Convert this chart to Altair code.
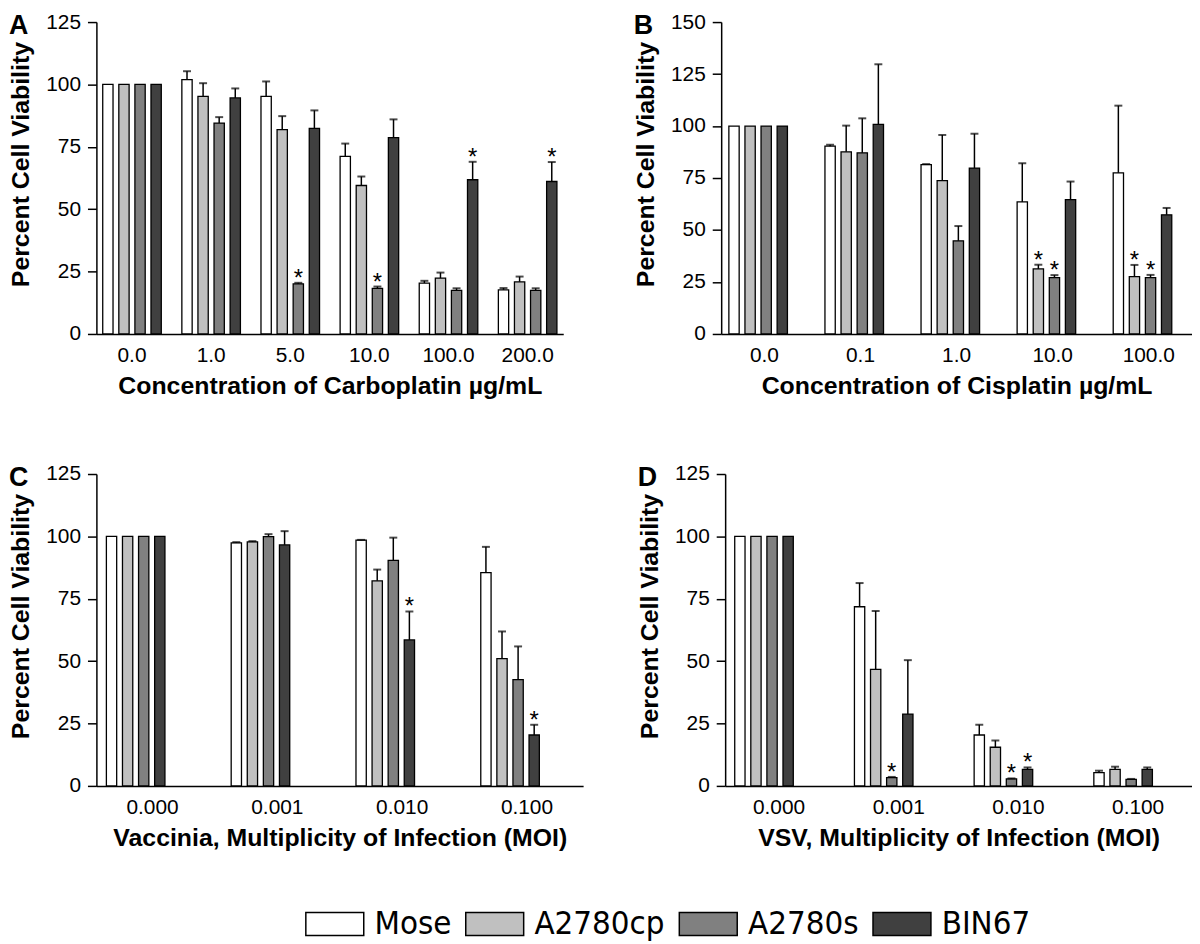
import altair as alt
import pandas as pd

series = ["Mose", "A2780cp", "A2780s", "BIN67"]
colors = ["#ffffff", "#c0c0c0", "#808080", "#404040"]

# Panel A - Carboplatin
a_cats = ["0.0", "1.0", "5.0", "10.0", "100.0", "200.0"]
a_vals = {
    "Mose":    [100, 101.9, 95.2, 71.2, 20.4, 17.7],
    "A2780cp": [100, 95.2, 81.9, 59.5, 22.4, 20.9],
    "A2780s":  [100, 84.5, 20.1, 18.3, 17.5, 17.5],
    "BIN67":   [100, 94.6, 82.4, 78.7, 61.8, 61.1],
}
a_errs = {
    "Mose":    [100, 105.3, 101.2, 76.3, 21.3, 18.4],
    "A2780cp": [100, 100.5, 87.3, 63.1, 24.6, 23.0],
    "A2780s":  [100, 86.9, 20.5, 19.0, 18.3, 18.3],
    "BIN67":   [100, 98.4, 89.6, 86.0, 69.0, 68.9],
}
a_sig = {"A2780s": ["5.0", "10.0"], "BIN67": ["100.0", "200.0"]}

# Panel B - Cisplatin
b_cats = ["0.0", "0.1", "1.0", "10.0", "100.0"]
b_vals = {
    "Mose":    [100, 90.3, 81.4, 63.5, 77.5],
    "A2780cp": [100, 87.6, 73.7, 31.3, 27.6],
    "A2780s":  [100, 87.1, 44.8, 27.1, 27.1],
    "BIN67":   [100, 100.8, 79.8, 64.6, 57.3],
}
b_errs = {
    "Mose":    [100, 91.0, 81.7, 82.1, 109.8],
    "A2780cp": [100, 100.2, 95.7, 33.3, 33.2],
    "A2780s":  [100, 103.7, 51.9, 28.3, 28.4],
    "BIN67":   [100, 129.7, 96.3, 73.3, 60.6],
}
b_sig = {"A2780cp": ["10.0", "100.0"], "A2780s": ["10.0", "100.0"]}

# Panel C - Vaccinia
c_cats = ["0.000", "0.001", "0.010", "0.100"]
c_vals = {
    "Mose":    [100, 97.4, 98.5, 85.5],
    "A2780cp": [100, 97.8, 82.2, 51.0],
    "A2780s":  [100, 99.9, 90.4, 42.6],
    "BIN67":   [100, 96.6, 58.5, 20.4],
}
c_errs = {
    "Mose":    [100, 97.7, 98.6, 95.8],
    "A2780cp": [100, 98.1, 86.7, 61.9],
    "A2780s":  [100, 100.9, 99.5, 55.9],
    "BIN67":   [100, 102.1, 69.9, 24.5],
}
c_sig = {"BIN67": ["0.010", "0.100"]}

# Panel D - VSV
d_cats = ["0.000", "0.001", "0.010", "0.100"]
d_vals = {
    "Mose":    [100, 71.8, 20.4, 5.3],
    "A2780cp": [100, 46.7, 15.5, 6.6],
    "A2780s":  [100, 3.3, 2.8, 2.65],
    "BIN67":   [100, 28.8, 6.6, 6.6],
}
d_errs = {
    "Mose":    [100, 81.3, 24.5, 6.1],
    "A2780cp": [100, 70.1, 18.2, 7.7],
    "A2780s":  [100, 3.6, 3.0, 2.8],
    "BIN67":   [100, 50.4, 7.4, 7.4],
}
d_sig = {"A2780s": ["0.001", "0.010"], "BIN67": ["0.010"]}

FONT = "Liberation Sans, Arial, Helvetica, sans-serif"
PLOT_H = 314

legend = alt.Legend(
    orient="none", legendX=210, legendY=878, direction="horizontal", title=None,
    symbolType="M-1,-0.4L1,-0.4L1,0.4L-1,0.4Z", symbolSize=3400,
    symbolStrokeColor="black", symbolStrokeWidth=1.5, symbolOpacity=1,
    labelFont="Liberation Sans Narrow, Arial Narrow, DejaVu Sans Condensed, sans-serif",
    labelFontSize=33, labelColor="black", labelOffset=10, columnPadding=10,
    labelLimit=300,
)
color_enc = alt.Color("series:N", sort=series,
                      scale=alt.Scale(domain=series, range=colors), legend=legend)


def panel(letter, cats, vals, errs, sig, ymax, xtitle, width):
    rows = []
    for s in series:
        for i, c in enumerate(cats):
            rows.append(dict(group=c, series=s, value=vals[s][i], err=errs[s][i],
                             sig=c in sig.get(s, [])))
    df = pd.DataFrame(rows)
    yscale = alt.Scale(domain=[0, ymax], nice=False, zero=True)
    yaxis = alt.Axis(values=list(range(0, ymax + 1, 25)), grid=False, tickSize=9,
                     labelPadding=7, titlePadding=12, titleY=PLOT_H / 2 - 14)
    ytitle = "Percent Cell Viability"
    x_enc = alt.X("group:N", sort=cats, title=xtitle,
                  scale=alt.Scale(paddingInner=0.26, paddingOuter=0.08),
                  axis=alt.Axis(ticks=False, labelAngle=0, labelPadding=11, titlePadding=8))
    xo_enc = alt.XOffset("series:N", sort=series, scale=alt.Scale(paddingInner=0.36))
    base = alt.Chart(df).encode(x=x_enc, xOffset=xo_enc)
    bars = base.mark_bar(stroke="black", strokeWidth=1.3, opacity=1).encode(
        y=alt.Y("value:Q", scale=yscale, axis=yaxis, title=ytitle),
        color=color_enc,
    )
    errdf = base.transform_filter("datum.err > datum.value")
    rule = errdf.mark_rule(color="black", strokeWidth=1.5).encode(
        y=alt.Y("value:Q", scale=yscale, axis=yaxis, title=ytitle), y2="err:Q")
    cap = errdf.mark_tick(orient="horizontal", size=8, thickness=2, color="black").encode(
        y=alt.Y("err:Q", scale=yscale, axis=yaxis, title=ytitle))
    star = base.transform_filter("datum.sig").mark_text(
        text="*", fontSize=24, font=FONT, baseline="alphabetic", dy=3, color="black"
    ).encode(y=alt.Y("err:Q", scale=yscale, axis=yaxis, title=ytitle))
    return alt.layer(bars, rule, cap, star).properties(
        width=width, height=PLOT_H,
        title=alt.TitleParams(letter, anchor="start", frame="bounds", fontSize=27,
                              fontWeight="bold", font=FONT, offset=-29, color="black"),
    )


pA = panel("A", a_cats, a_vals, a_errs, a_sig, 125, "Concentration of Carboplatin µg/mL", 470)
pB = panel("B", b_cats, b_vals, b_errs, b_sig, 150, "Concentration of Cisplatin µg/mL", 474)
pC = panel("C", c_cats, c_vals, c_errs, c_sig, 125, "Vaccinia, Multiplicity of Infection (MOI)", 490)
pD = panel("D", d_cats, d_vals, d_errs, d_sig, 125, "VSV, Multiplicity of Infection (MOI)", 470)

top = alt.hconcat(pA, pB, spacing=70)
bottom = alt.hconcat(pC, pD, spacing=54)

chart = alt.vconcat(top, bottom, spacing=65).properties(
    padding={"left": 0, "top": 0, "right": 0, "bottom": 0}
).configure_view(stroke=None).configure_axis(
    labelFont=FONT, titleFont=FONT, labelFontSize=21, titleFontSize=25,
    titleFontWeight="bold", labelColor="black", titleColor="black",
    domainColor="black", domainWidth=1.5, tickColor="black", tickWidth=1.5,
)

chart.save("out.html", embed_options={"renderer": "svg", "actions": False})
